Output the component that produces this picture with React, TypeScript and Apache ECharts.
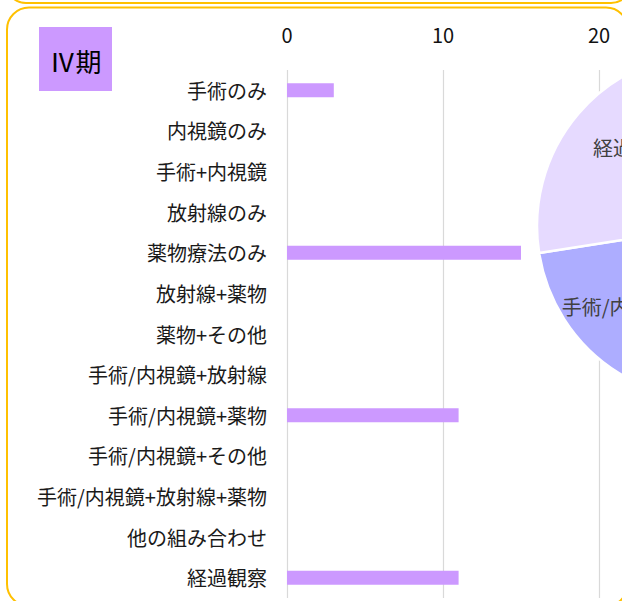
import React, { useEffect, useRef } from "react";
import * as echarts from "echarts";

// ---- data ----
const categories = [
  "手術のみ",
  "内視鏡のみ",
  "手術+内視鏡",
  "放射線のみ",
  "薬物療法のみ",
  "放射線+薬物",
  "薬物+その他",
  "手術/内視鏡+放射線",
  "手術/内視鏡+薬物",
  "手術/内視鏡+その他",
  "手術/内視鏡+放射線+薬物",
  "他の組み合わせ",
  "経過観察",
];
const counts = [3, 0, 0, 0, 15, 0, 0, 0, 11, 0, 0, 0, 11];
const axisMin = 0;
const axisMax = 20;
const axisStep = 10;
const stageLabel = "Ⅳ期";

// ---- styles ----
const FONT = "'Noto Sans CJK JP', 'Noto Sans', sans-serif";
const pieColors: Record<string, string> = {
  "手術のみ": "#CC99FF",
  "薬物療法のみ": "#9999FF",
  "手術/内視鏡+薬物": "#ADADFF",
  "経過観察": "#E6DAFF",
};
const pieLabelShift: Record<string, [number, number]> = {
  "手術/内視鏡+薬物": [-22, 4],
  "経過観察": [-9, -20],
};

export default function App() {
  const ref = useRef<HTMLDivElement>(null);

  useEffect(() => {
    if (!ref.current) return;
    const chart = echarts.init(ref.current, undefined, { renderer: "svg" });

    const pieData = categories
      .map((name, i) => ({ name, value: counts[i] }))
      .filter((d) => d.value > 0)
      .map((d) => ({
        ...d,
        itemStyle: { color: pieColors[d.name] || "#CCCCFF" },
      }));

    chart.setOption({
      animation: false,
      backgroundColor: "#ffffff",
      textStyle: { fontFamily: FONT },
      grid: {
        left: 287,
        top: 70,
        width: 312,
        height: 528,
        containLabel: false,
        outerBoundsMode: "none",
      },
      xAxis: {
        type: "value",
        position: "top",
        min: axisMin,
        max: axisMax,
        interval: axisStep,
        axisLine: { show: false },
        axisTick: { show: false },
        axisLabel: {
          margin: 26,
          fontSize: 20,
          color: "#111111",
          fontFamily: FONT,
        },
        splitLine: { show: true, lineStyle: { color: "#D9D9D9", width: 1.2 } },
      },
      yAxis: {
        type: "category",
        data: categories,
        inverse: true,
        axisLine: { show: false },
        axisTick: { show: false },
        axisLabel: {
          margin: 20,
          fontSize: 20,
          color: "#1a1a1a",
          fontFamily: FONT,
        },
        splitLine: { show: false },
      },
      series: [
        {
          type: "bar",
          data: counts,
          barWidth: 14,
          itemStyle: { color: "#CC99FF" },
          silent: true,
        },
        {
          type: "pie",
          center: [710, 226],
          radius: 173,
          startAngle: 90,
          clockwise: true,
          data: pieData,
          itemStyle: { borderColor: "#ffffff", borderWidth: 2.5 },
          label: {
            show: true,
            position: "inside",
            fontSize: 20,
            color: "#404040",
            fontFamily: FONT,
            formatter: "{b}",
          },
          labelLine: { show: false },
          labelLayout: (params: any) => {
            const name = pieData[params.dataIndex]?.name;
            const s = pieLabelShift[name];
            return s ? { dx: s[0], dy: s[1] } : {};
          },
          silent: true,
          z: 3,
        },
      ],
      graphic: [
        {
          type: "rect",
          shape: { x: 6, y: -100, width: 625, height: 103, r: 20 },
          style: { fill: "none", stroke: "#FFC000", lineWidth: 2 },
          z: 10,
          silent: true,
        },
        {
          type: "rect",
          shape: { x: 7, y: 7.5, width: 621, height: 598.5, r: 22 },
          style: { fill: "none", stroke: "#FFC000", lineWidth: 2 },
          z: 10,
          silent: true,
        },
        {
          type: "rect",
          shape: { x: 39, y: 27, width: 73, height: 64 },
          style: { fill: "#CC99FF" },
          z: 10,
          silent: true,
        },
        {
          type: "text",
          x: 75.5,
          y: 60,
          style: {
            text: stageLabel,
            fontSize: 26,
            fontFamily: FONT,
            fill: "#000000",
            align: "center",
            verticalAlign: "middle",
          },
          z: 11,
          silent: true,
        },
      ],
    });

    return () => chart.dispose();
  }, []);

  return (
    <div
      ref={ref}
      style={{
        position: "absolute",
        left: 0,
        top: 0,
        width: 622,
        height: 601,
        overflow: "hidden",
      }}
    />
  );
}
